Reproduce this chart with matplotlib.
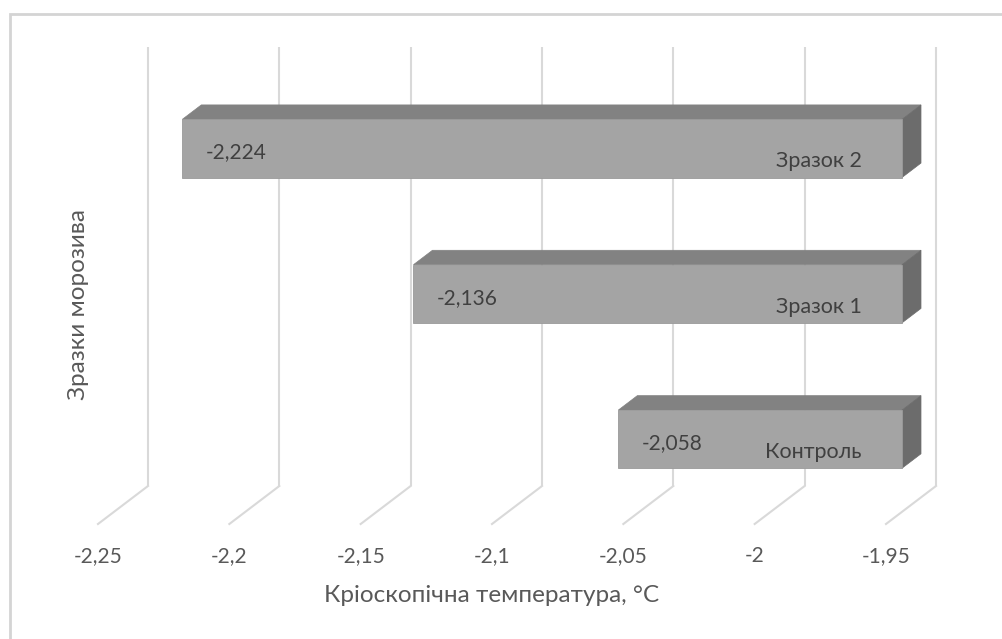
import matplotlib
matplotlib.use("Agg")
import matplotlib.pyplot as plt
from matplotlib.transforms import offset_copy
from matplotlib.patches import Polygon, Rectangle

# ---- data ----
categories = ["Контроль", "Зразок 1", "Зразок 2"]
values = [-2.058, -2.136, -2.224]
x_ticks = [-2.25, -2.2, -2.15, -2.1, -2.05, -2.0, -1.95]
x_title = "Кріоскопічна температура, °С"
y_title = "Зразки морозива"

plt.rcParams['font.family'] = ['Lato', 'DejaVu Sans']

W, H = 1002, 639
fig = plt.figure(figsize=(W / 100, H / 100), dpi=100)
fig.patch.set_facecolor('white')

# outer chart-area frame (top and left visible)
fig.add_artist(Rectangle((10 / W, -0.02), 1.2, (H - 14) / H + 0.02,
                         transform=fig.transFigure, fill=False,
                         edgecolor='#d4d4d4', linewidth=2))

ax = fig.add_axes([148 / W, (H - 486) / H, 788 / W, 439 / H])
xmin, xmax = x_ticks[0], x_ticks[-1]
ymin, ymax = 0.5, 3.52
ax.set_xlim(xmin, xmax)
ax.set_ylim(ymin, ymax)
ax.set_xticks([])
ax.set_yticks([])
for s in ax.spines.values():
    s.set_visible(False)
ax.patch.set_alpha(0)

# depth offset (back wall -> front edge), in pixels, converted to data units
fig.canvas.draw()
p0 = ax.transData.transform((xmin, ymin))
p1 = ax.transData.inverted().transform((p0[0] - 50, p0[1] - 38))
DXd, DYd = p1[0] - xmin, p1[1] - ymin

def proj(x, y, d):
    return (x + d * DXd, y + d * DYd)

grid_c = '#d9d9d9'
# back-wall gridlines + floor diagonals
ax.vlines(x_ticks, ymin, ymax, colors=grid_c, linewidth=1.5, zorder=1, clip_on=False)
for t in x_ticks:
    a = proj(t, ymin, 0)
    b = proj(t, ymin, 1)
    ax.plot([a[0], b[0]], [a[1], b[1]], color=grid_c, linewidth=1.5, zorder=1, clip_on=False)

# tick labels on front edge
lab_tr = offset_copy(ax.transData, fig=fig, x=0, y=-32, units='dots')
for t in x_ticks:
    px, py = proj(t, ymin, 1)
    ax.text(px, py, f"{t:g}".replace('.', ','), transform=lab_tr,
            ha='center', va='center', fontsize=15, color='#595959', clip_on=False)

# axis titles
tx, ty = proj((xmin + xmax) / 2, ymin, 1)
ax.text(tx, ty, x_title, transform=offset_copy(ax.transData, fig=fig, x=0, y=-71, units='dots'),
        ha='center', va='center', fontsize=17.5, color='#595959', clip_on=False)
yx, yy = proj(xmin, (ymin + ymax) / 2, 1)
ax.text(yx, yy, y_title, transform=offset_copy(ax.transData, fig=fig, x=-19, y=0, units='dots'),
        ha='center', va='center', rotation=90, fontsize=17.5, color='#595959', clip_on=False)

# 3D bars
d_front, d_back = 0.68, 0.30
h = 0.4
front_c, top_c, side_c = '#a4a4a4', '#828282', '#6c6c6c'
ypos = list(range(1, len(categories) + 1))
for y, v, cat in zip(ypos, values, categories):
    yt, yb = y + h / 2, y - h / 2
    top = [proj(v, yt, d_front), proj(xmax, yt, d_front), proj(xmax, yt, d_back), proj(v, yt, d_back)]
    side = [proj(xmax, yb, d_front), proj(xmax, yt, d_front), proj(xmax, yt, d_back), proj(xmax, yb, d_back)]
    ax.add_patch(Polygon(top, closed=True, facecolor=top_c, edgecolor=top_c, linewidth=0.5, zorder=3, clip_on=False))
    ax.add_patch(Polygon(side, closed=True, facecolor=side_c, edgecolor=side_c, linewidth=0.5, zorder=3, clip_on=False))
    fx, fy = proj(v, y, d_front)
    ax.barh(fy, xmax - v, left=fx, height=h, color=front_c, edgecolor='#9a9a9a',
            linewidth=0.6, zorder=4, clip_on=False)
    ax.text(fx, fy, f"{v:.3f}".replace('.', ','),
            transform=offset_copy(ax.transData, fig=fig, x=23, y=-4, units='dots'),
            ha='left', va='center', fontsize=15, color='#404040', zorder=5)
    rx, _ = proj(xmax, y, d_front)
    ax.text(rx, fy, cat,
            transform=offset_copy(ax.transData, fig=fig, x=-40, y=-13, units='dots'),
            ha='right', va='center', fontsize=15.5, color='#404040', zorder=5)

fig.savefig("out.png", dpi=100, facecolor='white')
